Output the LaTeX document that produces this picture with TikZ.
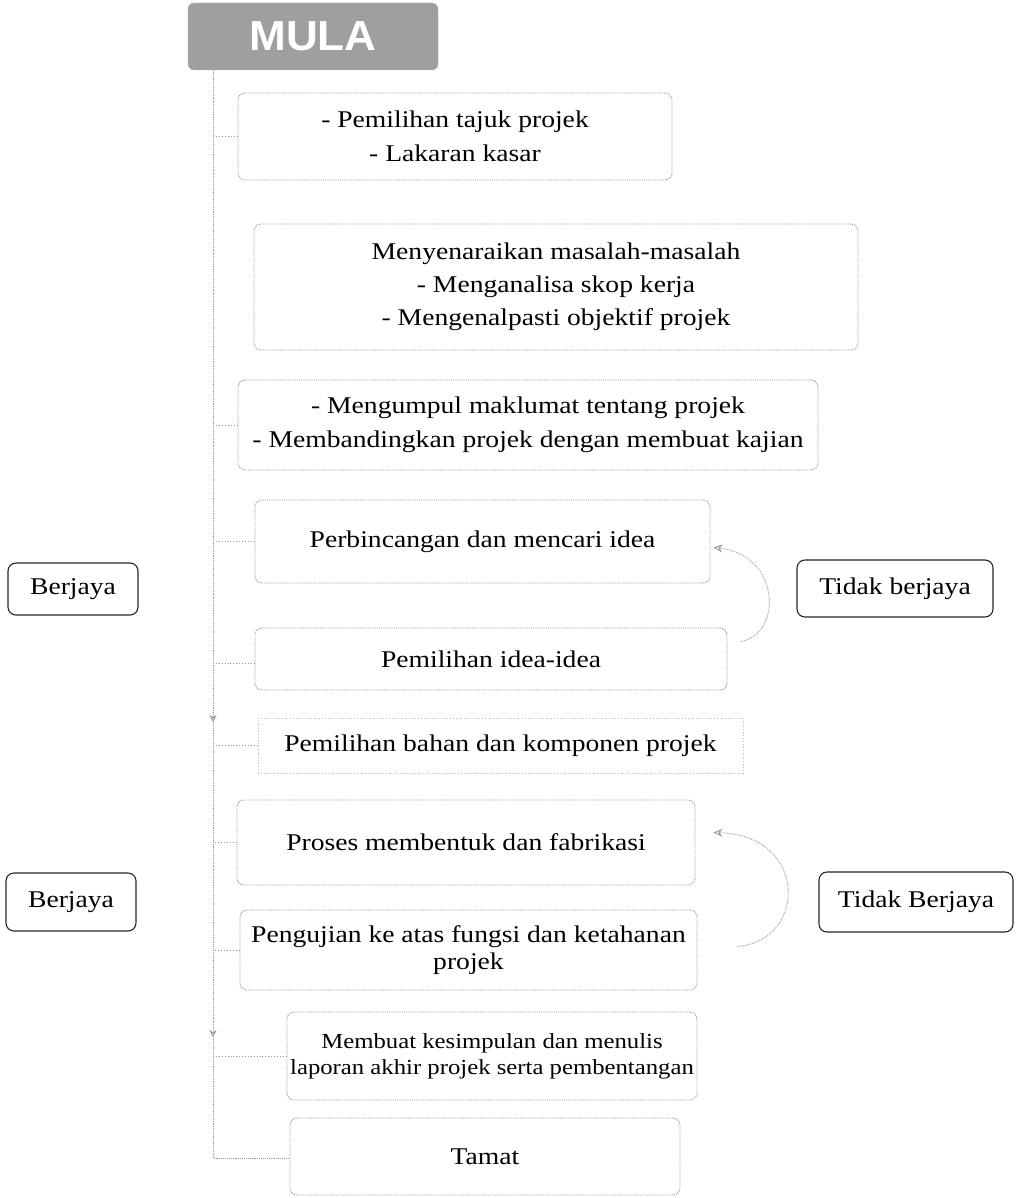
\documentclass[tikz,border=0pt]{standalone}
\usepackage{fontspec}
\setmainfont[FakeStretch=1.15]{Liberation Serif}
\newfontfamily\mulafont[FakeStretch=1.05]{Liberation Sans}
\usetikzlibrary{arrows.meta,calc}
\tikzset{
  mainbox/.style={draw=gray!85, densely dotted, line width=0.9pt, rounded corners=7pt, align=center,
    font=\fontsize{24}{34}\selectfont, inner sep=0pt},
  sparsebox/.style={draw=gray!65, dotted, line width=0.9pt, align=center,
    font=\fontsize{24}{34}\selectfont, inner sep=0pt},
  sidebox/.style={draw=black!85, line width=1.1pt, rounded corners=8pt, align=center,
    font=\fontsize{24}{30}\selectfont, inner sep=0pt},
  trunk/.style={draw=gray!85, densely dotted, line width=0.9pt},
  stub/.style={draw=gray!85, dotted, line width=0.9pt},
  loopback/.style={draw=gray!80, densely dotted, line width=0.9pt, -{Stealth[open,length=9pt,width=8pt]}},
  trunkarrow/.style={trunk, -{Stealth[open,length=7pt,width=7pt]}}
}
\begin{document}
\begin{tikzpicture}[x=1pt,y=-1pt]
\useasboundingbox (0,0) rectangle (1015,1198);
% start
\node[fill=gray!75, draw=gray!60, rounded corners=6pt, minimum width=250pt, minimum height=67pt,
  text=white, font=\mulafont\bfseries\fontsize{42}{42}\selectfont] (mula) at (313,36.5) {MULA};
% boxes
\node[mainbox, minimum width=434pt, minimum height=87pt] (b1) at (455,136.5)
  {- Pemilihan tajuk projek\\- Lakaran kasar};
\node[mainbox, minimum width=604pt, minimum height=126pt, font=\fontsize{24}{33}\selectfont] (b2) at (556,287)
  {Menyenaraikan masalah-masalah\\- Menganalisa skop kerja\\- Mengenalpasti objektif projek};
\node[mainbox, minimum width=580pt, minimum height=90pt] (b3) at (528,425)
  {- Mengumpul maklumat tentang projek\\- Membandingkan projek dengan membuat kajian};
\node[mainbox, minimum width=455pt, minimum height=83pt] (b4) at (482.5,541.5)
  {Perbincangan dan mencari idea};
\node[mainbox, minimum width=472pt, minimum height=62pt] (b5) at (491,659)
  {Pemilihan idea-idea};
\node[sparsebox, draw=gray!55, minimum width=485pt, minimum height=55pt] (b6) at (500.5,745.5)
  {Pemilihan bahan dan komponen projek};
\node[mainbox, minimum width=458pt, minimum height=85pt] (b7) at (466,842.5)
  {Proses membentuk dan fabrikasi};
\node[mainbox, minimum width=457pt, minimum height=80pt, font=\fontsize{24}{27}\selectfont] (b8) at (468.5,950)
  {Pengujian ke atas fungsi dan ketahanan\\projek};
\node[mainbox, minimum width=410pt, minimum height=88pt, font=\fontsize{21.5}{26}\selectfont] (b9) at (492,1056)
  {Membuat kesimpulan dan menulis\\laporan akhir projek serta pembentangan};
\node[mainbox, minimum width=390pt, minimum height=77pt] (b10) at (485,1156.5)
  {Tamat};
% side boxes
\node[sidebox, minimum width=130pt, minimum height=52pt] (s1) at (73,589) {Berjaya};
\node[sidebox, minimum width=196pt, minimum height=57pt] (s2) at (895,588.5) {Tidak berjaya};
\node[sidebox, minimum width=130pt, minimum height=58pt] (s3) at (71,902) {Berjaya};
\node[sidebox, minimum width=194pt, minimum height=60pt] (s4) at (916,902) {Tidak Berjaya};
% trunk
\coordinate (t0) at (213,70);
\coordinate (ta) at (213,722);
\coordinate (tb) at (213,1037);
\coordinate (t1) at (213,1158);
\draw[trunkarrow] (t0) -- (ta);
\draw[trunkarrow] (ta) -- (tb);
\draw[trunk] (tb) -- (t1) -- (b10.west |- t1);
% stubs
\draw[stub] (b1.west) -- (b1.west -| t0);
\draw[stub] (b3.west) -- (b3.west -| t0);
\draw[stub] (b4.west) -- (b4.west -| t0);
\draw[stub] ([yshift=-4pt]b5.west) -- ([yshift=-4pt]b5.west -| t0);
\draw[stub] (b6.west) -- (b6.west -| t0);
\draw[stub] (b7.west) -- (b7.west -| t0);
\draw[stub] (b8.west) -- (b8.west -| t0);
\draw[stub] (b9.west) -- (b9.west -| t0);
% loop-back arrows
\coordinate (c1s) at ($(b5.north east)+(13,14)$);
\coordinate (c1e) at ($(b4.east)+(3,6)$);
\draw[loopback] (c1s) .. controls (782,635) and (782,555) .. (c1e);
\coordinate (c2s) at ($(b8.north east)+(40,37)$);
\coordinate (c2e) at ($(b7.east)+(18,-10)$);
\draw[loopback] (c2s) .. controls (808,940) and (808,835) .. (c2e);
\end{tikzpicture}
\end{document}
